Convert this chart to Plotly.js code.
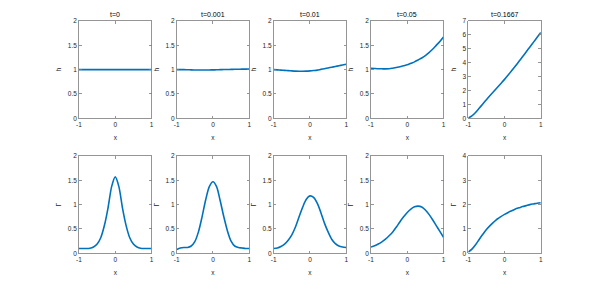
<!DOCTYPE html>
<html>
<head>
<meta charset="utf-8">
<script src="https://cdn.plot.ly/plotly-3.0.1.min.js"></script>
<style>html,body{margin:0;padding:0;background:#fff;}#plot{width:598px;height:285px;}</style>
</head>
<body>
<div id="plot"></div>
<script>
// ---- data ----
const xGrid = [-1,-0.9,-0.8,-0.7,-0.6,-0.5,-0.4,-0.3,-0.2,-0.1,0,0.1,0.2,0.3,0.4,0.5,0.6,0.7,0.8,0.9,1];
const titles = ["t=0","t=0.001","t=0.01","t=0.05","t=0.1667"];

const h_t0      = [1,1,1,1,1,1,1,1,1,1,1,1,1,1,1,1,1,1,1,1,1];
const h_t0001   = [1.0,1.0,1.0,0.998,0.995,0.994,0.993,0.993,0.993,0.994,0.995,0.997,1.0,1.002,1.003,1.005,1.007,1.008,1.01,1.01,1.01];
const h_t001    = [1.0,0.995,0.99,0.985,0.98,0.975,0.97,0.968,0.968,0.97,0.975,0.982,0.99,1.005,1.02,1.035,1.05,1.065,1.08,1.095,1.11];
const h_t005    = [1.03,1.025,1.02,1.017,1.015,1.018,1.03,1.045,1.06,1.08,1.1,1.13,1.16,1.2,1.24,1.29,1.35,1.42,1.5,1.58,1.67];
const h_t01667  = [0.02,0.17,0.42,0.72,1.03,1.34,1.64,1.93,2.22,2.51,2.8,3.11,3.43,3.76,4.1,4.44,4.79,5.13,5.48,5.83,6.18];

const g_t0      = [0.1,0.1,0.1,0.105,0.13,0.19,0.32,0.57,0.93,1.37,1.57,1.37,0.93,0.57,0.32,0.19,0.13,0.105,0.1,0.1,0.1];
const g_t0001   = [0.08,0.11,0.12,0.12,0.15,0.24,0.44,0.75,1.1,1.37,1.47,1.37,1.08,0.75,0.46,0.25,0.15,0.12,0.11,0.1,0.1];
const g_t001    = [0.1,0.11,0.14,0.19,0.27,0.38,0.54,0.75,0.95,1.11,1.18,1.15,1.03,0.84,0.62,0.44,0.29,0.2,0.15,0.13,0.12];
const g_t005    = [0.13,0.155,0.19,0.235,0.29,0.36,0.44,0.54,0.65,0.75,0.84,0.91,0.955,0.97,0.95,0.89,0.8,0.69,0.57,0.45,0.33];
const g_t01667  = [0.05,0.17,0.35,0.57,0.78,0.98,1.14,1.28,1.41,1.51,1.6,1.68,1.75,1.82,1.87,1.92,1.96,2.0,2.03,2.06,2.08];

const hSeries = [h_t0,h_t0001,h_t001,h_t005,h_t01667];
const gSeries = [g_t0,g_t0001,g_t001,g_t005,g_t01667];

const xTicks = [-1,0,1];
const yTicks2 = [0,0.5,1,1.5,2];
const yTicks7 = [0,1,2,3,4,5,6,7];
const yTicks4 = [0,1,2,3,4];
const hTicks = [yTicks2,yTicks2,yTicks2,yTicks2,yTicks7];
const gTicks = [yTicks2,yTicks2,yTicks2,yTicks2,yTicks4];

// ---- layout ----
const W = 598, H = 285;
const lefts = [79,176.7,273.7,371,468.3];
const pw = 72.5;
const rows = [[21,118.3],[156,253.3]];
const lineColor = '#0072BD';
const axCol = '#262626';
const fnt = {family:'Liberation Sans, Arial, sans-serif', size:6.5, color:axCol};

const traces = [];
const layout = {
  width: W, height: H,
  margin: {l:0,r:0,t:0,b:0},
  paper_bgcolor:'#fff', plot_bgcolor:'#fff',
  showlegend:false,
  annotations: []
};

function axisBase(){
  return {
    showline:true, mirror:'ticks', linecolor:'#7a7a7a', linewidth:0.8,
    ticks:'inside', ticklen:2.5, tickwidth:0.8, tickcolor:'#7a7a7a',
    showgrid:false, zeroline:false, tickfont:fnt, automargin:false, fixedrange:true
  };
}

let k = 0;
for (let r = 0; r < 2; r++) {
  for (let c = 0; c < 5; c++) {
    k++;
    const xa = 'xaxis' + (k===1?'':k), ya = 'yaxis' + (k===1?'':k);
    const xs = 'x' + (k===1?'':k), ys = 'y' + (k===1?'':k);
    const ydata = r===0 ? hSeries[c] : gSeries[c];
    const yt = r===0 ? hTicks[c] : gTicks[c];
    traces.push({x:xGrid, y:ydata, xaxis:xs, yaxis:ys, type:'scatter', mode:'lines',
      line:{color:lineColor, width:1.6, shape:'spline', smoothing:0.8}, hoverinfo:'skip'});
    const X = axisBase();
    X.domain = [lefts[c]/W, (lefts[c]+pw)/W];
    X.anchor = ys; X.range = [-1,1]; X.tickvals = xTicks; X.ticktext = xTicks.map(String);
    X.title = {text:'x', font:fnt, standoff:8};
    const Y = axisBase();
    Y.domain = [1-rows[r][1]/H, 1-rows[r][0]/H];
    Y.anchor = xs; Y.range = [yt[0], yt[yt.length-1]]; Y.tickvals = yt; Y.ticktext = yt.map(String);
    Y.title = {text: r===0 ? 'h' : 'Γ', font:fnt, standoff:5};
    layout[xa] = X; layout[ya] = Y;
    if (r===0) {
      layout.annotations.push({text:titles[c], xref:'paper', yref:'paper',
        x:(lefts[c]+pw/2)/W, y:1-rows[r][0]/H, xanchor:'center', yanchor:'bottom', yshift:1,
        showarrow:false, font:{family:'Liberation Sans, Arial, sans-serif', size:7, color:'#000'}});
    }
  }
}

Plotly.newPlot('plot', traces, layout, {displayModeBar:false, staticPlot:true});
</script>
</body>
</html>
